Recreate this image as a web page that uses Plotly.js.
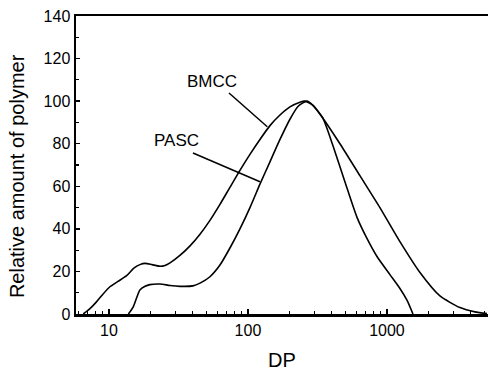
<!DOCTYPE html>
<html>
<head>
<meta charset="utf-8">
<script src="https://cdn.plot.ly/plotly-3.0.1.min.js"></script>
<style>html,body{margin:0;padding:0;background:#fff;}</style>
</head>
<body>
<div id="chart" style="width:488px;height:371px;"></div>
<script>
// BMCC distribution (DP vs relative amount)
const bmccDP = [6.53, 7.30, 8.16, 9.05, 10.17, 11.6, 13.4, 15.1, 16.7, 18.2, 20.4, 23.3, 25.3, 27.5, 32.4, 38.3, 45.2, 53.3, 62.9, 74.2, 87.6, 103.4, 122, 144, 170, 200.5, 236.7, 257, 293.6, 346, 459, 639, 890, 1240, 1728, 2406, 3352, 4297, 5241];
const bmccAmt = [0, 2.5, 5.8, 9.3, 12.8, 15.3, 18.0, 21.5, 23.2, 23.8, 23.2, 22.4, 22.8, 24.0, 27.5, 32.0, 37.5, 44.0, 51.5, 59.5, 67.5, 75.0, 82.0, 88.5, 93.5, 97.3, 99.5, 100, 98, 92, 80, 65, 50, 34, 19.5, 8.5, 3.0, 1.0, 0.2];
// PASC distribution
const pascDP = [13.8, 14.96, 15.9, 16.7, 18.2, 19.7, 23.3, 27.5, 32.4, 40.2, 45.2, 53.3, 62.9, 74.2, 87.6, 103.4, 122, 144, 170, 200.5, 228.9, 265.8, 293.6, 346, 409, 499, 608, 718, 848, 1051, 1240, 1393, 1539];
const pascAmt = [0, 3.4, 8.0, 11.3, 13.0, 13.8, 14.1, 13.4, 13.0, 13.2, 14.5, 17.5, 23.0, 31.0, 40.0, 50.0, 61.0, 71.5, 82.0, 91.5, 97.5, 100, 98, 92, 79, 62, 45.5, 35.5, 27, 18.5, 12, 6.5, 0];
// axis ticks
const xTickVals = [10, 100, 1000];
const xTickText = ["10", "100", "1000"];
const xMinorVals = [6,7,8,9,20,30,40,50,60,70,80,90,200,300,400,500,600,700,800,900,2000,3000,4000,5000];
const seriesNames = ["BMCC", "PASC"];

const lineStyle = {color: '#000', width: 1.6, shape: 'spline', smoothing: 0.6};
const traces = [
  {x: bmccDP, y: bmccAmt, mode: 'lines', name: seriesNames[0], line: lineStyle, hoverinfo: 'none'},
  {x: pascDP, y: pascAmt, mode: 'lines', name: seriesNames[1], line: lineStyle, hoverinfo: 'none'}
];
const fam = 'Liberation Sans, Arial, sans-serif';
const fnt = {family: fam, size: 16, color: '#000'};
const layout = {
  width: 488, height: 371,
  margin: {l: 76, r: 0, t: 16, b: 57},
  paper_bgcolor: '#fff', plot_bgcolor: '#fff',
  showlegend: false,
  font: fnt,
  xaxis: {
    type: 'log', range: [0.763, 3.727],
    tickvals: xTickVals, ticktext: xTickText,
    ticks: 'inside', ticklen: 5, tickwidth: 1.5, tickcolor: '#000',
    minor: {tickvals: xMinorVals, ticks: 'inside', ticklen: 3, tickwidth: 1.2, tickcolor: '#000', showgrid: false},
    showline: true, linewidth: 2.5, linecolor: '#000', mirror: true,
    showgrid: false, zeroline: false,
    tickfont: fnt,
    title: {text: 'DP', font: {family: fam, size: 20, color: '#000'}, standoff: 22}
  },
  yaxis: {
    range: [0, 140], dtick: 20, tick0: 0,
    ticks: 'inside', ticklen: 4, tickwidth: 1.5, tickcolor: '#000',
    minor: {dtick: 10, ticks: 'inside', ticklen: 3, tickwidth: 1.2, tickcolor: '#000', showgrid: false},
    showline: true, linewidth: 2.5, linecolor: '#000',
    showgrid: false, zeroline: false,
    tickfont: fnt
  },
  annotations: [
    {x: -0.143, y: 0.463, xref: 'paper', yref: 'paper', text: 'Relative amount of polymer', textangle: -90,
     showarrow: false, xanchor: 'center', yanchor: 'middle', font: {family: fam, size: 20, color: '#000'}},
    {x: 1.741, y: 109, xref: 'x', yref: 'y', text: seriesNames[0], showarrow: false, font: {family: fam, size: 17, color: '#000'}},
    {x: 1.489, y: 81.3, xref: 'x', yref: 'y', text: seriesNames[1], showarrow: false, font: {family: fam, size: 17, color: '#000'}}
  ],
  shapes: [
    {type: 'line', xref: 'paper', yref: 'paper', x0: 0.3714, y0: 0.7416, x1: 0.4643, y1: 0.6285, line: {color: '#000', width: 1.5}},
    {type: 'line', xref: 'paper', yref: 'paper', x0: 0.2840, y0: 0.5403, x1: 0.4466, y1: 0.4440, line: {color: '#000', width: 1.5}}
  ]
};
Plotly.newPlot('chart', traces, layout, {displayModeBar: false, staticPlot: true});
</script>
</body>
</html>
